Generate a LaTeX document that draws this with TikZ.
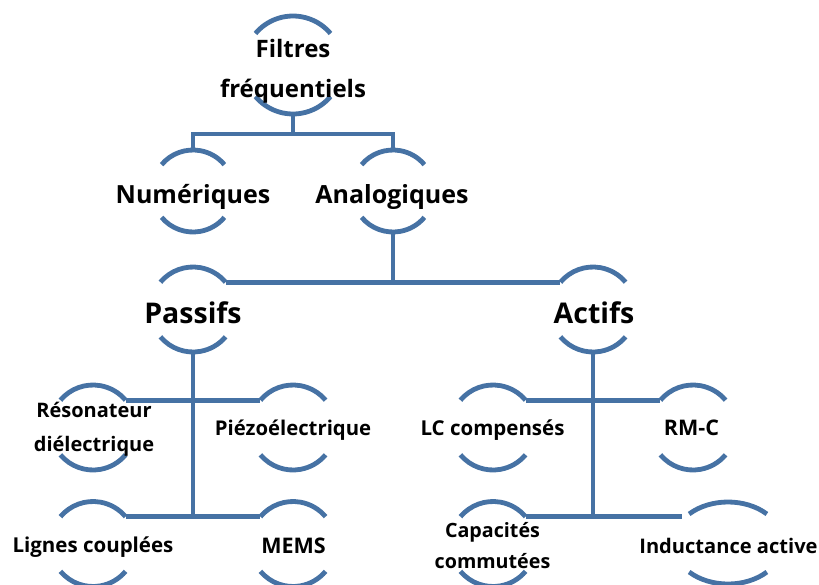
\documentclass[tikz,border=0pt]{standalone}
\usepackage{fontspec}
\setmainfont{Open Sans}
\usetikzlibrary{shapes.geometric}
\definecolor{linec}{RGB}{70,114,164}
\tikzset{
  arcline/.style={draw=linec, line width=4.8pt},
  conn/.style={draw=linec, line width=4.8pt},
  holder/.style={circle, inner sep=0pt, outer sep=0pt, minimum size=#1},
  txt/.style={font=\bfseries, align=center, text=black, inner sep=0pt},
}
\newcommand{\arcnode}[4]{%
  \node[holder=#4*2pt] (#1) at (#2,-#3) {};
  \draw[arcline] ([shift={(140:#4)}]#1.center) arc[start angle=140, end angle=40, radius=#4];
  \draw[arcline] ([shift={(220:#4)}]#1.center) arc[start angle=220, end angle=320, radius=#4];
  \coordinate (#1-l) at ([shift={(140:#4)}]#1.center);
  \coordinate (#1-r) at ([shift={(40:#4)}]#1.center);
}
\begin{document}
\begin{tikzpicture}[x=1pt,y=1pt]
\useasboundingbox (0,0) rectangle (819,-584);
\arcnode{filt}{293}{65}{49}
\arcnode{num}{193}{191}{41}
\arcnode{ana}{393}{191}{41}
\arcnode{pas}{193}{309.5}{42.5}
\arcnode{act}{593}{309.5}{42.5}
\arcnode{res}{93}{427.5}{42.5}
\arcnode{pie}{293}{427.5}{42.5}
\arcnode{lc}{493}{427.5}{42.5}
\arcnode{rmc}{693}{427.5}{42.5}
\arcnode{lig}{93}{544}{42.5}
\arcnode{mem}{293}{544}{42.5}
\arcnode{cap}{493}{544}{42.5}
% ellipse node
\node[ellipse, inner sep=0pt, outer sep=0pt, minimum width=110pt, minimum height=82pt] (ind) at (728,-543) {};
\draw[arcline] ([shift={(135:55 and 41)}]ind.center) arc[start angle=135, end angle=45, x radius=55, y radius=41];
\draw[arcline] ([shift={(225:55 and 41)}]ind.center) arc[start angle=225, end angle=315, x radius=55, y radius=41];
\coordinate (ind-l) at ([shift={(135:55 and 41)}]ind.center);
% connectors
\coordinate (j1) at (293,-134);
\draw[conn] (filt.south) -- (j1);
\draw[conn] (num.north) |- (j1) -| (ana.north);
\draw[conn] (ana.south) -- (ana.south |- pas-r);
\draw[conn] (pas-r) -- (act-l);
\draw[conn] (pas.south) -- (pas.south |- lig-r);
\draw[conn] (res-r) -- (pie-l);
\draw[conn] (lig-r) -- (mem-l);
\draw[conn] (act.south) -- (act.south |- cap-r);
\draw[conn] (lc-r) -- (rmc-l);
\draw[conn] (cap-r) -- ([xshift=-7pt]cap-r -| ind-l);
% texts
\node[txt, font=\bfseries\fontsize{24}{40}\selectfont] (filt-t) at (293,-71) {Filtres\\fréquentiels};
\node[txt, font=\bfseries\fontsize{25}{28}\selectfont, anchor=base] (num-t) at (193,-203) {Numériques};
\node[txt, font=\bfseries\fontsize{25}{28}\selectfont, anchor=base] (ana-t) at (392,-203) {Analogiques};
\node[txt, font=\bfseries\fontsize{28.5}{32}\selectfont, anchor=base] (pas-t) at (193,-323) {Passifs};
\node[txt, font=\bfseries\fontsize{28.5}{32}\selectfont, anchor=base] (act-t) at (594,-323) {Actifs};
\node[txt, font=\bfseries\fontsize{20}{34}\selectfont] (res-t) at (94,-429) {Résonateur\\diélectrique};
\node[txt, font=\bfseries\fontsize{20.3}{24}\selectfont, anchor=base] (pie-t) at (293,-435) {Piézoélectrique};
\node[txt, font=\bfseries\fontsize{20.5}{24}\selectfont, anchor=base] (lc-t) at (492.5,-435) {LC compensés};
\node[txt, font=\bfseries\fontsize{21.5}{24}\selectfont, anchor=base] (rmc-t) at (691.5,-435) {RM-C};
\node[txt, font=\bfseries\fontsize{20.5}{24}\selectfont, anchor=base] (lig-t) at (93,-552) {Lignes couplées};
\node[txt, font=\bfseries\fontsize{21.5}{24}\selectfont, anchor=base] (mem-t) at (293.5,-553) {MEMS};
\node[txt, font=\bfseries\fontsize{19.7}{31}\selectfont] (cap-t) at (492.5,-546) {Capacités\\commutées};
\node[txt, font=\bfseries\fontsize{20.1}{24}\selectfont, anchor=base] (ind-t) at (728.5,-553) {Inductance active};
\end{tikzpicture}
\end{document}
